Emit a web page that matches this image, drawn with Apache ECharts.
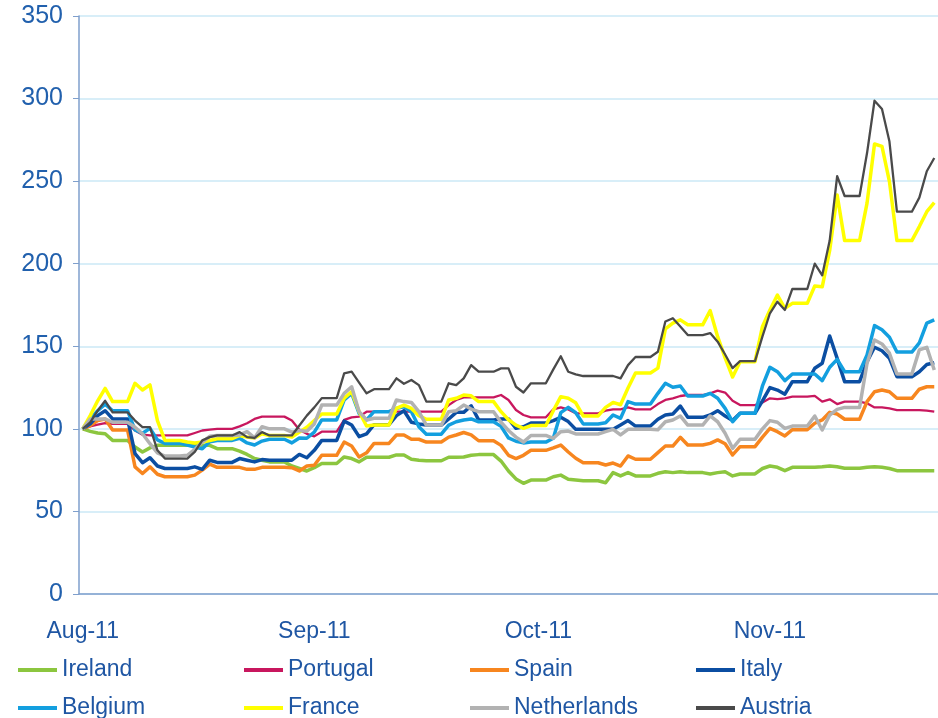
<!DOCTYPE html>
<html>
<head>
<meta charset="utf-8">
<script src="https://cdn.jsdelivr.net/npm/echarts@6/dist/echarts.min.js"></script>
<style>
  html, body { margin: 0; padding: 0; background: #ffffff; }
  #chart { width: 938px; height: 718px; }
</style>
</head>
<body>
<div id="chart"></div>
<script>
// daily dates, 1 Aug 2011 .. 23 Nov 2011 (weekends carry Friday's level)
var dates = [];
for (var i = 0; i < 115; i++) {
    var t = new Date(Date.UTC(2011, 7, 1 + i));
    dates.push(t.toISOString().slice(0, 10));
}
var monthNames = { '08': 'Aug', '09': 'Sep', '10': 'Oct', '11': 'Nov' };
var yTicks = [0, 50, 100, 150, 200, 250, 300, 350];

// values, one row per week (Mon..Sun)
var ireland = [
    100, 98.5, 97.5, 97, 93, 93, 93,
    89, 86, 88.5, 90, 90, 90, 90,
    90, 90, 90, 90, 88, 88, 88,
    86.5, 84.5, 82, 81, 80, 80, 80,
    77.5, 76, 74.5, 76.5, 79, 79, 79,
    83, 82, 80, 82.8, 82.8, 82.8, 82.8,
    84.2, 84.2, 81.6, 81, 80.7, 80.7, 80.7,
    82.8, 82.8, 83, 84, 84.4, 84.4, 84.4,
    80.5, 74.5, 69.7, 67, 69, 69, 69,
    71, 72, 69.5, 69, 68.6, 68.6, 68.6,
    67.4, 73.5, 71.5, 73.5, 71.5, 71.5, 71.5,
    73.1, 74, 73.5, 74, 73.5, 73.5, 73.5,
    72.7, 73.5, 74, 71.5, 72.7, 72.7, 72.7,
    76, 77.5, 76.7, 74.7, 76.7, 76.7, 76.7,
    76.7, 77, 77.5, 77, 76.1, 76.1, 76.1,
    76.7, 77, 76.7, 76, 74.7, 74.7, 74.7,
    74.7, 74.7, 74.7
];
var portugal = [
    100, 101.5, 102.5, 103.5, 103, 103, 103,
    99, 96.5, 96, 96, 96, 96, 96,
    96, 97.5, 99, 99.5, 100, 100, 100,
    101.5, 103.4, 106, 107.4, 107.4, 107.4, 107.4,
    105, 99.5, 97, 95.5, 98.3, 98.3, 98.3,
    105.4, 107, 107.4, 110.4, 110.4, 110.4, 110.4,
    110.4, 110.4, 110.4, 110.4, 110.4, 110.4, 110.4,
    114.4, 117.5, 119.1, 119.1, 119.1, 119.1, 119.1,
    120.5, 117.5, 111.4, 108.4, 107, 107, 107,
    111.8, 113, 111.8, 109.4, 109.4, 109.4, 109.4,
    111, 111.8, 111.8, 113, 111.8, 111.8, 111.8,
    115, 117.5, 118.5, 119.9, 120.5, 120.5, 120.5,
    121.5, 123.1, 122, 117, 114.4, 114.4, 114.4,
    116, 118.5, 118, 118.5, 119.5, 119.5, 119.5,
    120, 116.5, 117.9, 115, 116.5, 116.5, 116.5,
    115.5, 113, 113, 112.4, 111.4, 111.4, 111.4,
    111.4, 111, 110.4
];
var spain = [
    100, 102, 105, 106, 99.3, 99.3, 99.3,
    77, 73, 77, 72.5, 71, 71, 71,
    71, 72, 75, 78.7, 76.7, 76.7, 76.7,
    76.7, 75.5, 75.5, 76.7, 76.7, 76.7, 76.7,
    76.5, 74.5, 77.5, 78, 84, 84, 84,
    92, 89.6, 83, 85.5, 91.2, 91.2, 91.2,
    96.3, 96.3, 93.7, 93.7, 92, 92, 92,
    95, 96.3, 97.8, 96.4, 92.8, 92.8, 92.8,
    90, 84, 82, 84, 87, 87, 87,
    88.5, 90.2, 86, 82.2, 79.5, 79.5, 79.5,
    78.1, 79.3, 77.5, 83.6, 81.6, 81.6, 81.6,
    85.6, 89.6, 89.6, 94.9, 90.2, 90.2, 90.2,
    91.2, 93.3, 91, 84.2, 89.2, 89.2, 89.2,
    95, 100.3, 98.3, 95.7, 99.5, 99.5, 99.5,
    103.4, 105.4, 110, 109, 105.8, 105.8, 105.8,
    116.5, 122.5, 123.5, 122.5, 118.5, 118.5, 118.5,
    124, 125.5, 125.5
];
var italy = [
    100, 103, 108, 111, 106, 106, 106,
    85, 79.5, 82.5, 77.5, 76, 76, 76,
    76, 77, 75.5, 81, 79.7, 79.7, 79.7,
    82, 81, 80, 81.4, 81, 81, 81,
    81, 84.5, 82.5, 87, 93, 93, 93,
    104.7, 102.3, 95.3, 97, 102.5, 102.5, 102.5,
    108, 111, 104, 103, 102.3, 102.3, 102.3,
    106, 110, 110, 114, 105.4, 105.4, 105.4,
    106, 106, 100.3, 101.3, 103.5, 103.5, 103.5,
    105, 107, 104.4, 99.7, 99.7, 99.7, 99.7,
    99.7, 99.7, 102.3, 105, 101.7, 101.7, 101.7,
    105.8, 108.4, 109, 113.8, 107, 107, 107,
    108.4, 111, 107.8, 105, 109.4, 109.4, 109.4,
    117, 125, 123.5, 121, 128.6, 128.6, 128.6,
    136.7, 139.7, 156.2, 142.7, 128.6, 128.6, 128.6,
    140.7, 149.4, 147.3, 142.7, 131.6, 131.6, 131.6,
    134.6, 139, 140
];
var belgium = [
    100, 106, 111, 115, 111, 111, 111,
    99.3, 97.3, 100.3, 93.3, 91.2, 91.2, 91.2,
    90.2, 89, 88, 92.2, 93, 93, 93,
    94.3, 91.5, 90.2, 92.6, 93.7, 93.7, 93.7,
    91.5, 94.5, 94.3, 98, 105.4, 105.4, 105.4,
    117.5, 121.5, 109.4, 105.4, 110.4, 110.4, 110.4,
    112.4, 113.4, 110.4, 101.3, 96.8, 96.8, 96.8,
    102.3, 104.3, 105.4, 106, 104.3, 104.3, 104.3,
    101.5, 94.5, 92.5, 91.5, 92, 92, 92,
    94.3, 109.8, 113, 109.8, 103, 103, 103,
    103.7, 108.4, 106.4, 116.5, 115, 115, 115,
    121.5, 127.6, 125.2, 126, 119.9, 119.9, 119.9,
    121.5, 118.5, 112.4, 104.3, 109.4, 109.4, 109.4,
    126, 137.3, 134.6, 129.2, 133.2, 133.2, 133.2,
    133.2, 129.2, 137.3, 142.1, 134.6, 134.6, 134.6,
    144.7, 162.5, 160, 155.5, 146.5, 146.5, 146.5,
    152, 164, 166
];
var france = [
    100, 108, 117, 124.5, 116.5, 116.5, 116.5,
    127.6, 123.5, 126.6, 105, 93, 93, 93,
    92, 91.5, 92, 93, 94, 94, 94,
    96, 95, 94.5, 97, 96, 96, 96,
    95, 98, 101, 105, 109, 109, 109,
    118.5, 122.5, 110.4, 101.7, 102.3, 102.3, 102.3,
    112.4, 114.4, 112.4, 108, 105.8, 105.8, 105.8,
    117.5, 118.5, 120.5, 120, 116.5, 116.5, 116.5,
    110.4, 105.5, 102.3, 100.3, 102, 102, 102,
    111, 119.5, 118.5, 115.8, 107.8, 107.8, 107.8,
    113, 116, 114.6, 124.7, 133.8, 133.8, 133.8,
    136.8, 160.5, 164, 166, 163, 163, 163,
    171.6, 155.8, 143, 131.4, 140.7, 140.7, 140.7,
    162, 172, 181, 173, 176, 176, 176,
    186.5, 186, 208, 241.6, 214, 214, 214,
    236.7, 272.5, 271, 249.7, 214, 214, 214,
    222.5, 231.5, 237
];
var netherlands = [
    100, 106, 106, 106, 104, 104, 104,
    101, 97, 91, 85.5, 83.5, 83.5, 83.5,
    84, 87.5, 92, 95.5, 96, 96, 96,
    96.3, 98.3, 94.5, 101.3, 100, 100, 100,
    98, 99, 98.5, 103, 114.4, 114.4, 114.4,
    121.5, 125.5, 110.4, 105.4, 106.4, 106.4, 106.4,
    117.5, 116.5, 116, 110.4, 102.3, 102.3, 102.3,
    110.4, 111, 114.4, 112, 110.4, 110.4, 110.4,
    104, 99, 95, 92, 96, 96, 96,
    94.3, 98.3, 98.7, 96.9, 96.9, 96.9, 96.9,
    98.3, 99.7, 96.3, 99.7, 99.7, 99.7, 99.7,
    99.5, 104.3, 105.4, 107.8, 102.3, 102.3, 102.3,
    107.8, 104.3, 97.3, 88.2, 93.7, 93.7, 93.7,
    100, 105, 104, 100.3, 101.7, 101.7, 101.7,
    107.8, 99.3, 108.4, 111.8, 113, 113, 113,
    139.7, 153.8, 151.4, 145.8, 133.2, 133.2, 133.2,
    147.8, 149.4, 135.6
];
var austria = [
    100, 104, 111, 117, 110, 110, 110,
    105, 101, 101, 87, 82, 82, 82,
    82, 86, 93, 95, 96, 96, 96,
    98, 95, 94.5, 98, 96, 96, 96,
    96, 102, 108, 113, 118.6, 118.6, 118.6,
    133.6, 134.6, 128, 121.5, 124, 124, 124,
    130.6, 127.3, 129.6, 126.5, 116.5, 116.5, 116.5,
    127.6, 126.5, 130.6, 138.6, 134.6, 134.6, 134.6,
    136.6, 136.6, 125.5, 122, 127.6, 127.6, 127.6,
    136, 144, 134.6, 133, 132, 132, 132,
    132, 132, 130.6, 138.6, 143.5, 143.5, 143.5,
    146.7, 165, 167, 162, 156.8, 156.8, 156.8,
    158, 152.8, 145, 136.8, 141, 141, 141,
    156, 170, 177, 172, 184.7, 184.7, 184.7,
    200, 193, 214, 253, 241, 241, 241,
    267, 298.7, 293.7, 274, 231.5, 231.5, 231.5,
    240, 256, 264
];

var textBlue = '#1f56a3';
var font = 'Liberation Sans, Arial, sans-serif';

function mkSeries(name, data, color, width) {
    return {
        name: name,
        type: 'line',
        data: data,
        symbol: 'none',
        color: color,
        lineStyle: { color: color, width: width, join: 'round' },
        emphasis: { disabled: true }
    };
}

function mkLegend(names, top) {
    return {
        data: names,
        left: 13,
        top: top,
        icon: 'rect',
        itemWidth: 39,
        itemHeight: 4,
        itemGap: 6,
        selectedMode: false,
        textStyle: { fontSize: 23, fontFamily: font, color: textBlue, width: 176, lineHeight: 26 }
    };
}

var myChart = echarts.init(document.getElementById('chart'));
myChart.setOption({
    animation: false,
    backgroundColor: '#ffffff',
    grid: { left: 79, right: -7, top: 16, bottom: 124, containLabel: false },
    legend: [
        mkLegend(['Ireland', 'Portugal', 'Spain', 'Italy'], 652),
        mkLegend(['Belgium', 'France', 'Netherlands', 'Austria'], 690)
    ],
    xAxis: {
        type: 'category',
        data: dates,
        boundaryGap: true,
        axisLine: { lineStyle: { color: '#7f9fcc', width: 1.5 } },
        axisTick: {
            length: 8,
            lineStyle: { color: '#7f9fcc' },
            interval: function (idx, val) { return val.slice(8) === '01'; }
        },
        axisLabel: {
            interval: function (idx, val) { return val.slice(8) === '01'; },
            formatter: function (val) { return monthNames[val.slice(5, 7)] + '-' + val.slice(2, 4); },
            fontSize: 23,
            fontFamily: font,
            color: textBlue,
            margin: 26
        },
        splitLine: { show: false }
    },
    yAxis: {
        type: 'value',
        min: yTicks[0],
        max: yTicks[yTicks.length - 1],
        interval: 50,
        axisLine: { show: true, lineStyle: { color: '#7f9fcc', width: 1.5 } },
        axisTick: { show: true, length: 6, lineStyle: { color: '#7f9fcc' } },
        axisLabel: { fontSize: 25, fontFamily: font, color: '#2160ad', margin: 16 },
        splitLine: { lineStyle: { color: '#cbe8f6', width: 1.5 } }
    },
    series: [
        mkSeries('Ireland', ireland, '#8cc63f', 3.5),
        mkSeries('Portugal', portugal, '#c8175e', 2.3),
        mkSeries('Spain', spain, '#f7861f', 3.5),
        mkSeries('Italy', italy, '#0b4ea2', 3.5),
        mkSeries('Belgium', belgium, '#139fdf', 3.5),
        mkSeries('France', france, '#ffff00', 3.5),
        mkSeries('Netherlands', netherlands, '#b2b2b2', 3.5),
        mkSeries('Austria', austria, '#4a4a4a', 2.3)
    ]
});
</script>
</body>
</html>
